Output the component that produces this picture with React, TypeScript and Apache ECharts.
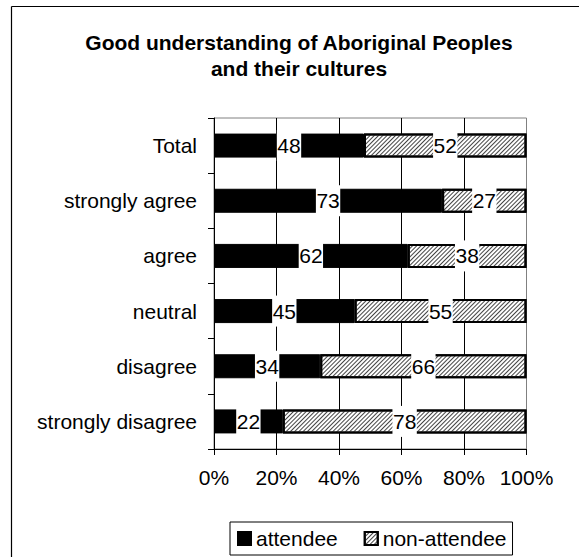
import React, { useEffect, useRef } from "react";
import * as echarts from "echarts";

const categories = ["Total", "strongly agree", "agree", "neutral", "disagree", "strongly disagree"];
const attendee = [48, 73, 62, 45, 34, 22];
const nonAttendee = [52, 27, 38, 55, 66, 78];
const xTicks = [0, 20, 40, 60, 80, 100];

const FONT = '"Liberation Sans", Arial, sans-serif';
const FS = 21;

export default function App() {
  const ref = useRef<HTMLDivElement>(null);

  useEffect(() => {
    if (!ref.current) return;
    const chart = echarts.init(ref.current, null, { renderer: "svg" });

    // fine diagonal hatching for the non-attendee bars
    const hatch = {
      symbol: "rect",
      symbolSize: 1,
      dashArrayX: [1, 0],
      dashArrayY: [1, 1.2],
      rotation: -Math.PI / 4,
      color: "#444",
    };

    const barLabel = {
      show: true,
      position: "inside",
      color: "#000",
      fontSize: FS,
      fontFamily: FONT,
      backgroundColor: "#fff",
      padding: [5, 0.5, 5, 0.5],
    };

    chart.setOption({
      animation: false,
      backgroundColor: "#fff",
      textStyle: { fontFamily: FONT, color: "#000" },
      graphic: [
        {
          type: "line",
          shape: { x1: 11.5, y1: 6.5, x2: 11.5, y2: 557 },
          style: { stroke: "#000", lineWidth: 1.2 },
        },
        {
          type: "line",
          shape: { x1: 11.5, y1: 6.5, x2: 579, y2: 6.5 },
          style: { stroke: "#000", lineWidth: 1.2 },
        },
        {
          type: "text",
          x: 299,
          y: 29,
          style: {
            text: "Good understanding of Aboriginal Peoples\nand their cultures",
            fill: "#000",
            font: `bold 21px ${FONT}`,
            textAlign: "center",
            textVerticalAlign: "top",
            lineHeight: 26,
          },
        },
      ],
      grid: {
        left: 214,
        right: 52.5,
        top: 118,
        bottom: 108,
        show: true,
        borderColor: "#808080",
        borderWidth: 1,
        backgroundColor: "transparent",
      },
      legend: {
        left: 230,
        top: 522,
        orient: "horizontal",
        padding: [6, 6, 6, 7],
        itemGap: 26,
        itemWidth: 13,
        itemHeight: 13,
        icon: "rect",
        borderColor: "#000",
        borderWidth: 1,
        textStyle: { fontSize: FS, color: "#000", fontFamily: FONT },
        data: ["attendee", "non-attendee"],
      },
      xAxis: {
        type: "value",
        min: xTicks[0],
        max: xTicks[xTicks.length - 1],
        interval: 20,
        axisLine: { show: true, lineStyle: { color: "#000", width: 1 } },
        axisTick: { show: true, length: 6, lineStyle: { color: "#000" } },
        axisLabel: {
          fontSize: FS,
          color: "#000",
          margin: 18,
          formatter: "{value}%",
        },
        splitLine: {
          show: true,
          lineStyle: {
            color: ["#000", "#000", "#000", "#000", "#000", "#808080"],
            width: 1,
          },
        },
      },
      yAxis: {
        type: "category",
        inverse: true,
        data: categories,
        axisLine: { show: true, lineStyle: { color: "#000", width: 1 } },
        axisTick: { show: true, length: 6, lineStyle: { color: "#000" } },
        axisLabel: { fontSize: FS, color: "#000", margin: 17 },
        splitLine: { show: false },
      },
      series: [
        {
          name: "attendee",
          type: "bar",
          stack: "total",
          barWidth: 24,
          data: attendee,
          itemStyle: { color: "#000", borderColor: "#000", borderWidth: 1 },
          label: barLabel,
        },
        {
          name: "non-attendee",
          type: "bar",
          stack: "total",
          barWidth: 24,
          data: nonAttendee,
          itemStyle: {
            color: "#fff",
            borderColor: "#000",
            borderWidth: 2,
            decal: hatch,
          },
          label: barLabel,
        },
      ],
    });

    return () => chart.dispose();
  }, []);

  return (
    <div
      ref={ref}
      style={{ position: "fixed", left: 0, top: 0, width: 579, height: 557 }}
    />
  );
}
